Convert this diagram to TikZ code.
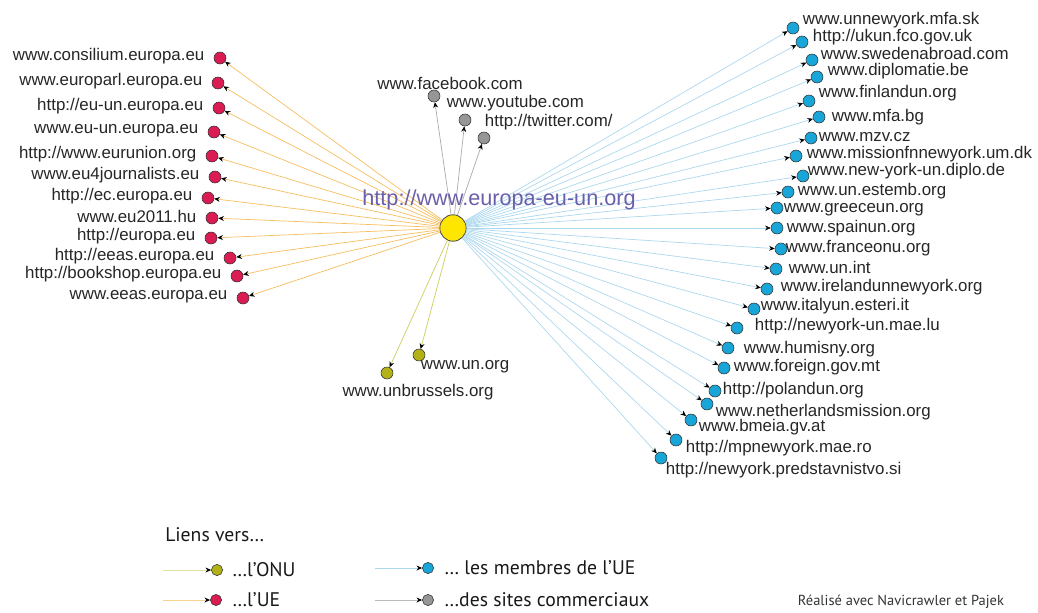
\documentclass[tikz,border=0pt]{standalone}
\usepackage{fontspec}
\setmainfont{Liberation Sans}
\newfontfamily\legendfont{PT Sans}
\usetikzlibrary{arrows.meta,positioning}

\definecolor{ueRed}{RGB}{218,28,82}
\definecolor{ueLine}{RGB}{246,190,95}
\definecolor{memBlue}{RGB}{24,166,216}
\definecolor{memLine}{RGB}{172,216,238}
\definecolor{onuOlive}{RGB}{178,178,22}
\definecolor{onuLine}{RGB}{205,205,95}
\definecolor{comGray}{RGB}{150,150,150}
\definecolor{comLine}{RGB}{170,170,170}
\definecolor{hubYellow}{RGB}{255,230,0}
\definecolor{hubText}{RGB}{105,95,170}

\begin{document}
\begin{tikzpicture}[
  x=0.025cm, y=-0.025cm,
  dot/.style={circle, draw=black!80, line width=0.4pt, inner sep=0pt, minimum size=0.3cm},
  hub/.style={circle, draw=black!70, line width=0.6pt, fill=hubYellow, inner sep=0pt, minimum size=0.66cm},
  lbl/.style={font=\fontsize{12}{14}\selectfont, text=black!85, inner sep=0.5pt},
  link/.style={line width=0.5pt, -{Stealth[length=4pt, width=3.5pt, black]}},
  key/.style={font=\legendfont\fontsize{14}{16}\selectfont, text=black!90, inner sep=0pt, anchor=west}
]

\useasboundingbox (0,0) rectangle (1038,612);

% === Hub ===
\node[hub] (hub) at (453,228) {};

% === EU institutions (left) ===
\foreach \i/\x/\y/\t in {
    1/220/58/{www.consilium.europa.eu},
    2/218/83/{www.europarl.europa.eu},
    3/219/108/{http://eu-un.europa.eu},
    4/214/132/{www.eu-un.europa.eu},
    5/212/156/{http://www.eurunion.org},
    6/215/177/{www.eu4journalists.eu},
    7/208/198/{http://ec.europa.eu},
    8/212/218/{www.eu2011.hu},
    9/211/238/{http://europa.eu},
    10/230/258/{http://eeas.europa.eu},
    11/237/276/{http://bookshop.europa.eu},
    12/243/298/{www.eeas.europa.eu}} {
  \node[dot, fill=ueRed] (u\i) at (\x,\y) {};
  \draw[link, ueLine] (hub) -- (u\i);
  \node[lbl, left=6pt of u\i, yshift=1pt] (ul\i) {\t};
}

% === EU member states (right) ===
\foreach \i/\x/\y/\lx/\ly/\t in {
    1/793/28/802/20/{www.unnewyork.mfa.sk},
    2/802/42/812/37/{http://ukun.fco.gov.uk},
    3/812/60/820/53/{www.swedenabroad.com},
    4/817/77/827/71/{www.diplomatie.be},
    5/809/101/818/93/{www.finlandun.org},
    6/819/117/831/117/{www.mfa.bg},
    7/811/138/818/137/{www.mzv.cz},
    8/796/156/806/154/{www.missionfnnewyork.um.dk},
    9/803/176/807/171/{www.new-york-un.diplo.de},
    10/788/192/797/191/{www.un.estemb.org},
    11/777/208/783/210/{www.greeceun.org},
    12/777/228/786/228/{www.spainun.org},
    13/781/249/785/248/{www.franceonu.org},
    14/776/269/788/267/{www.un.int},
    15/767/289/780/287/{www.irelandunnewyork.org},
    16/754/309/760/306/{www.italyun.esteri.it},
    17/737/328/754/326/{http://newyork-un.mae.lu},
    18/728/348/743/349/{www.humisny.org},
    19/724/368/733/367/{www.foreign.gov.mt},
    20/715/391/722/390/{http://polandun.org},
    21/707/404/715/412/{www.netherlandsmission.org},
    22/691/420/698/427/{www.bmeia.gv.at},
    23/676/440/685/448/{http://mpnewyork.mae.ro},
    24/661/458/665/470/{http://newyork.predstavnistvo.si}} {
  \node[dot, fill=memBlue] (m\i) at (\x,\y) {};
  \draw[link, memLine] (hub) -- (m\i);
  \node[lbl, anchor=west] (ml\i) at (\lx,\ly) {\t};
}

% === UN ===
\node[dot, fill=onuOlive] (o1) at (387,373) {};
\node[dot, fill=onuOlive] (o2) at (419,355) {};
\draw[link, onuLine] (hub) -- (o1);
\draw[link, onuLine] (hub) -- (o2);
\node[lbl] (ol1) at (418,392) {www.unbrussels.org};
\node[lbl, anchor=west] (ol2) at (420,367) {www.un.org};

% === Commercial sites ===
\node[dot, fill=comGray] (g1) at (434,96) {};
\node[dot, fill=comGray] (g2) at (465,120) {};
\node[dot, fill=comGray] (g3) at (484,138) {};
\foreach \g in {g1,g2,g3} {
  \draw[link, comLine] (hub) -- (\g);
}
\node[lbl] (gl1) at (450,83) {www.facebook.com};
\node[lbl, anchor=west] (gl2) at (446,103) {www.youtube.com};
\node[lbl, anchor=west] (gl3) at (484,122) {http://twitter.com/};

% hub label on top of the links
\node[font=\fontsize{15.4}{18}\selectfont, text=hubText, inner sep=0pt] (hublbl) at (499,200) {http://www.europa-eu-un.org};

% === Legend ===
\node[key] (keytitle) at (165,535) {Liens vers…};

\coordinate (k1) at (163,570);
\coordinate (k2) at (163,600);
\coordinate (k3) at (375,568);
\coordinate (k4) at (375,600);
\node[dot, fill=onuOlive, minimum size=0.28cm] (kd1) at (217,570) {};
\node[dot, fill=ueRed, minimum size=0.28cm] (kd2) at (216,600) {};
\node[dot, fill=memBlue, minimum size=0.28cm] (kd3) at (428,568) {};
\node[dot, fill=comGray, minimum size=0.28cm] (kd4) at (428,600) {};
\draw[link, onuLine!60] (k1) -- (kd1);
\draw[link, ueLine!70] (k2) -- (kd2);
\draw[link, memLine] (k3) -- (kd3);
\draw[link, comLine!80] (k4) -- (kd4);
\node[key] (kt1) at (232,570) {…l’ONU};
\node[key] (kt2) at (232,600) {…l’UE};
\node[key] (kt3) at (444,568) {… les membres de l’UE};
\node[key] (kt4) at (444,600) {…des sites commerciaux};

\node[font=\legendfont\fontsize{10.3}{12}\selectfont, text=black!80, anchor=west] (credit) at (793,602) {Réalisé avec Navicrawler et Pajek};

\end{tikzpicture}
\end{document}
